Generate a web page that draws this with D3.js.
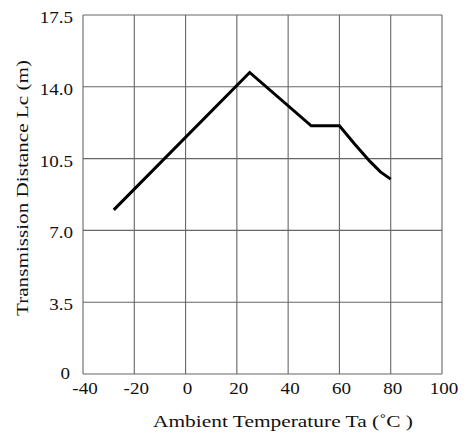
<!DOCTYPE html>
<html><head><meta charset="utf-8">
<script src="https://cdn.jsdelivr.net/npm/d3@7"></script>
<style>body{margin:0;background:#fff}</style>
</head><body>
<script>
const temps = [-28, 25, 49, 60, 66, 72, 76, 80];
const distances = [8.0, 14.7, 12.1, 12.1, 11.2, 10.35, 9.85, 9.5];
const xTicks = [-40, -20, 0, 20, 40, 60, 80, 100];
const yTicks = [0, 3.5, 7.0, 10.5, 14.0, 17.5];
const yTickLabels = ["0", "3.5", "7.0", "10.5", "14.0", "17.5"];
const xTitle = "Ambient Temperature Ta (˚C )";
const yTitle = "Transmission Distance Lc (m)";

const W = 469, H = 437;
const m = {left: 83, right: 27, top: 15, bottom: 63};
const svg = d3.select("body").append("svg").attr("width", W).attr("height", H);
const x = d3.scaleLinear().domain([-40, 100]).range([m.left, W - m.right]);
const y = d3.scaleLinear().domain([0, 17.5]).range([H - m.bottom, m.top]);
const font = "'Liberation Serif', 'Times New Roman', serif";
const stretch = 1.12;
function widen(sel) {
  sel.each(function() {
    const w = this.getComputedTextLength();
    d3.select(this).attr("textLength", w * stretch).attr("lengthAdjust", "spacingAndGlyphs");
  });
}

const g = svg.append("g");
g.selectAll(".vg").data(xTicks).join("line")
  .attr("x1", d => x(d)).attr("x2", d => x(d))
  .attr("y1", y(0)).attr("y2", y(17.5))
  .attr("stroke", "#666").attr("stroke-width", 1.1);
g.selectAll(".hg").data(yTicks).join("line")
  .attr("y1", d => y(d)).attr("y2", d => y(d))
  .attr("x1", x(-40)).attr("x2", x(100))
  .attr("stroke", "#666").attr("stroke-width", 1.1);

// x tick labels
svg.selectAll(".xt").data(xTicks).join("text")
  .attr("x", d => x(d) + 2).attr("y", y(0) + 19.5)
  .attr("text-anchor", "middle").attr("font-family", font).attr("font-size", 17)
  .attr("fill", "#111")
  .text(d => d).call(widen);
// y tick labels
svg.selectAll(".yt").data(yTicks).join("text")
  .attr("x", (d, i) => i === 0 ? x(-40) - 13 : x(-40) - 10)
  .attr("y", (d, i) => i === 0 ? y(d) + 5 : y(d) + 8)
  .attr("text-anchor", "end").attr("font-family", font).attr("font-size", 17)
  .attr("fill", "#111")
  .text((d, i) => yTickLabels[i]).call(widen);

svg.append("text").attr("x", 283).attr("y", 427)
  .attr("text-anchor", "middle").attr("font-family", font).attr("font-size", 17)
  .attr("fill", "#111")
  .text(xTitle).attr("textLength", 260).attr("lengthAdjust", "spacingAndGlyphs");
svg.append("text")
  .attr("transform", `translate(28, 188) rotate(-90)`)
  .attr("text-anchor", "middle").attr("font-family", font).attr("font-size", 17)
  .attr("fill", "#111")
  .text(yTitle).attr("textLength", 256).attr("lengthAdjust", "spacingAndGlyphs");

const line = d3.line().x((d, i) => x(temps[i])).y(d => y(d));
svg.append("path").datum(distances)
  .attr("d", line).attr("fill", "none")
  .attr("stroke", "#000").attr("stroke-width", 3).attr("stroke-linejoin", "miter");
</script>
</body></html>
